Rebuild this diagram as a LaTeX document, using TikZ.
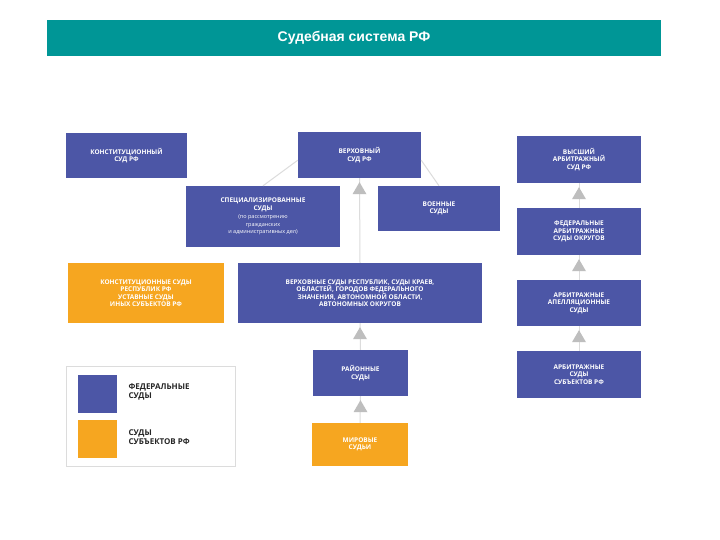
\documentclass[tikz,border=0pt]{standalone}
\usepackage{fontspec}
\setmainfont{Liberation Sans}
\newfontfamily\boxf{Open Sans}
\begin{document}
\begin{tikzpicture}[x=1pt,y=-1pt,
  bl/.style={fill=fedblue,text=white,font=\boxf\bfseries\fontsize{6.5}{7.5}\selectfont,align=center,inner sep=0pt},
  or/.style={fill=subor,text=white,font=\boxf\bfseries\fontsize{6.5}{7.5}\selectfont,align=center,inner sep=0pt},
  ln/.style={draw=linegray,line width=1pt},
  tri/.style={fill=trigray}]
\definecolor{fedblue}{RGB}{76,86,166}
\definecolor{subor}{RGB}{246,166,32}
\definecolor{teal1}{RGB}{0,150,150}
\definecolor{linegray}{RGB}{220,220,220}
\definecolor{trigray}{RGB}{190,190,190}
\useasboundingbox (0,0) rectangle (720,540);
\fill[white] (0,0) rectangle (720,540);
\node[fill=teal1,minimum width=614pt,minimum height=36pt,inner sep=0pt,text=white,font=\bfseries\fontsize{14}{16}\selectfont] (title) at (354,38) {Судебная система РФ};
% boxes
\node[bl,minimum width=121pt,minimum height=45pt] (ks) at (126.5,155.5) {КОНСТИТУЦИОННЫЙ\\СУД РФ};
\node[bl,minimum width=123pt,minimum height=46pt] (vs) at (359.5,155) {ВЕРХОВНЫЙ\\СУД РФ};
\node[bl,minimum width=154pt,minimum height=61pt] (sp) at (263,216.5) {СПЕЦИАЛИЗИРОВАННЫЕ\\СУДЫ\\[1pt]{\mdseries\fontsize{5.5}{6}\selectfont (по рассмотрению}\\{\mdseries\fontsize{5.5}{6}\selectfont гражданских}\\{\mdseries\fontsize{5.5}{6}\selectfont и административных дел)}};
\node[bl,minimum width=122pt,minimum height=45pt] (vo) at (439,208.5) {ВОЕННЫЕ\\СУДЫ};
\node[or,minimum width=156pt,minimum height=60pt] (kss) at (146,293) {КОНСТИТУЦИОННЫЕ СУДЫ\\РЕСПУБЛИК РФ\\УСТАВНЫЕ СУДЫ\\ИНЫХ СУБЪЕКТОВ РФ};
\node[bl,minimum width=244pt,minimum height=60pt] (vss) at (360,293) {ВЕРХОВНЫЕ СУДЫ РЕСПУБЛИК, СУДЫ КРАЕВ,\\ОБЛАСТЕЙ, ГОРОДОВ ФЕДЕРАЛЬНОГО\\ЗНАЧЕНИЯ, АВТОНОМНОЙ ОБЛАСТИ,\\АВТОНОМНЫХ ОКРУГОВ};
\node[bl,minimum width=95pt,minimum height=46pt] (rs) at (360.5,373) {РАЙОННЫЕ\\СУДЫ};
\node[or,minimum width=96pt,minimum height=43pt] (ms) at (360,444.5) {МИРОВЫЕ\\СУДЬИ};
\node[bl,minimum width=124pt,minimum height=47pt] (va) at (579,159.5) {ВЫСШИЙ\\АРБИТРАЖНЫЙ\\СУД РФ};
\node[bl,minimum width=124pt,minimum height=47pt] (fa) at (579,231.5) {ФЕДЕРАЛЬНЫЕ\\АРБИТРАЖНЫЕ\\СУДЫ ОКРУГОВ};
\node[bl,minimum width=124pt,minimum height=46pt] (aa) at (579,303) {АРБИТРАЖНЫЕ\\АПЕЛЛЯЦИОННЫЕ\\СУДЫ};
\node[bl,minimum width=124pt,minimum height=47pt] (as) at (579,374.5) {АРБИТРАЖНЫЕ\\СУДЫ\\СУБЪЕКТОВ РФ};
% connectors
\begin{scope}[on background layer/.style={}]
\end{scope}
\draw[ln] (vs.south) -- (vss.north);
\draw[ln] (vss.south) -- (rs.north);
\draw[ln] (rs.south) -- (ms.north);
\draw[ln] (vs.south west) ++(0,-18) coordinate (c1);
\draw[ln] (c1) -- (sp.north);
\draw[ln] (vs.south east) ++(0,-18) coordinate (c2);
\draw[ln] (c2) -- (vo.north);
\draw[ln] (va.south) -- (fa.north);
\draw[ln] (fa.south) -- (aa.north);
\draw[ln] (aa.south) -- (as.north);
\foreach \n in {vs,vss,rs,va,fa,aa}{
  \fill[trigray] (\n.south) ++(0,4) -- ++(7,12) -- ++(-14,0) -- cycle;
}
% legend
\node[draw=linegray,line width=1pt,minimum width=169pt,minimum height=100pt,inner sep=0pt] (lg) at (150.5,416) {};
\node[fill=fedblue,minimum width=39pt,minimum height=38pt,inner sep=0pt] (lb) at (97.5,394) {};
\node[fill=subor,minimum width=39pt,minimum height=38pt,inner sep=0pt] (lo) at (97.5,439) {};
\node[anchor=west,align=left,font=\boxf\bfseries\fontsize{8}{9.5}\selectfont,text=black!85] (lbt) at (125,392) {ФЕДЕРАЛЬНЫЕ\\СУДЫ};
\node[anchor=west,align=left,font=\boxf\bfseries\fontsize{8}{9.5}\selectfont,text=black!85] (lot) at (125,437) {СУДЫ\\СУБЪЕКТОВ РФ};
\end{tikzpicture}
\end{document}
